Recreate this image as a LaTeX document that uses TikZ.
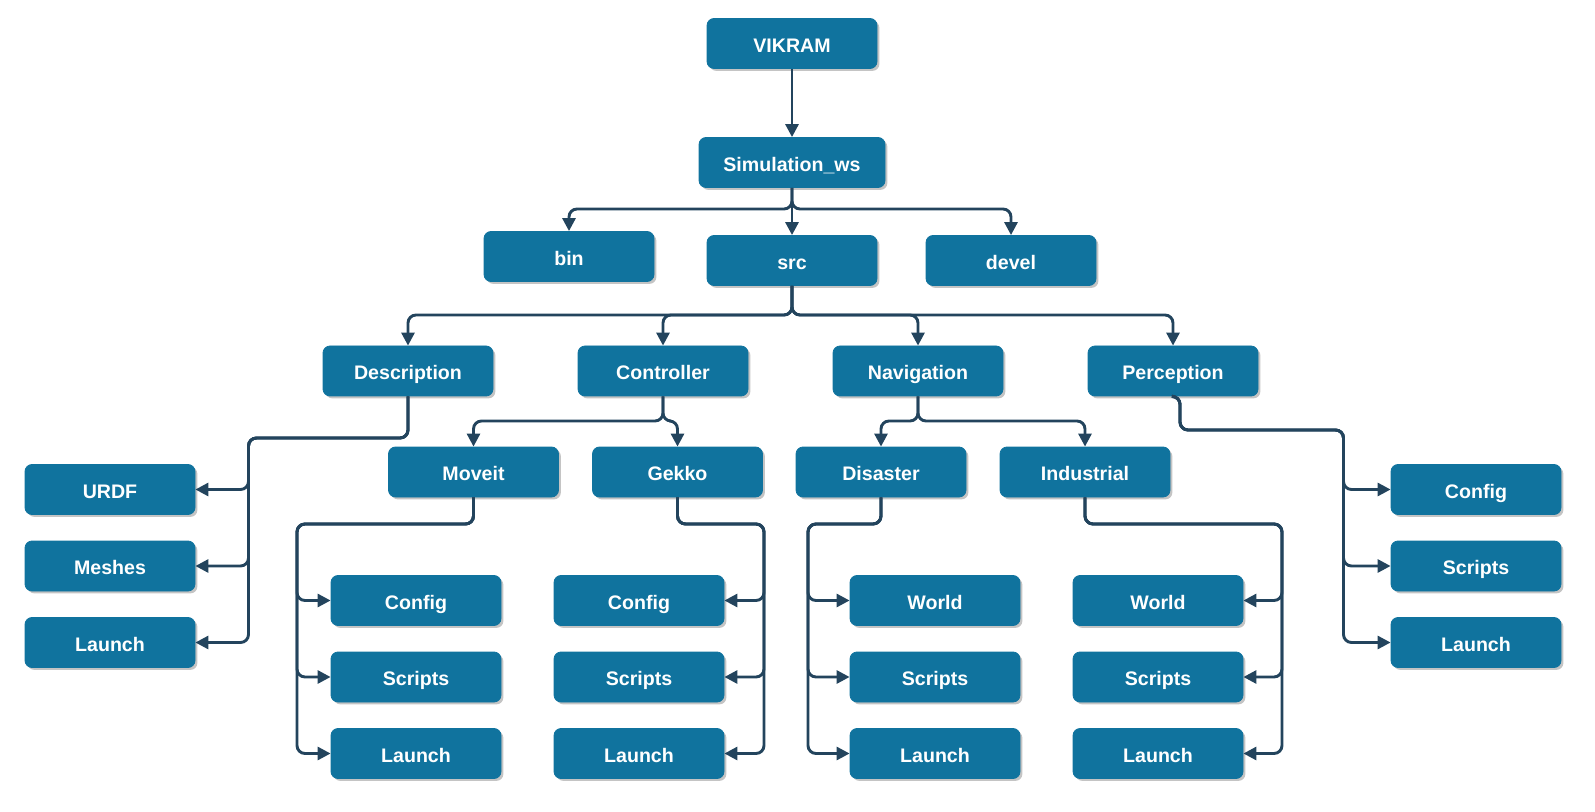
\documentclass[tikz,border=0pt]{standalone}
\usepackage{fontspec}
\setmainfont{Liberation Sans}
\usetikzlibrary{arrows.meta,shadows}
\definecolor{azulcaja}{HTML}{10739E}
\definecolor{azulflecha}{HTML}{23445D}
\definecolor{grissombra}{HTML}{C4C4C4}

\begin{document}
\begin{tikzpicture}[x=0.5pt, y=-0.5pt,
    box/.style={rectangle, rounded corners=3.5pt, fill=azulcaja, draw=azulcaja,
                minimum width=85pt, minimum height=25pt, inner sep=0pt,
                text height=8.6pt, text depth=0pt,
                text=white, font=\fontsize{9.8pt}{11pt}\selectfont\bfseries,
                drop shadow={shadow xshift=1.2pt, shadow yshift=-1.2pt,
                             fill=grissombra, opacity=1}},
    arrow/.style={-{Triangle[length=6.5pt, width=6.5pt]}, line width=1.45pt,
                  color=azulflecha, rounded corners=4pt}
  ]
    \useasboundingbox (0,0) rectangle (1595,812);

    \node[box] (vikram) at (792,43.5) {VIKRAM};
    \node[box, minimum width=93pt] (simws) at (792,162.5) {Simulation\_ws};
    \node[box] (bin) at (569,256.5) {bin};
    \node[box] (src) at (792,260.5) {src};
    \node[box] (devel) at (1011,260.5) {devel};

    \node[box] (description) at (408,371) {Description};
    \node[box] (controller) at (663,371) {Controller};
    \node[box] (navigation) at (918,371) {Navigation};
    \node[box] (perception) at (1173,371) {Perception};

    \node[box] (moveit) at (473.5,472) {Moveit};
    \node[box] (gekko) at (677.5,472) {Gekko};
    \node[box] (disaster) at (881,472) {Disaster};
    \node[box] (industrial) at (1085,472) {Industrial};

    \node[box] (urdf) at (110,489.5) {URDF};
    \node[box] (meshes) at (110,566) {Meshes};
    \node[box] (desclaunch) at (110,642.5) {Launch};

    \node[box] (mconfig) at (416,600.5) {Config};
    \node[box] (mscripts) at (416,677) {Scripts};
    \node[box] (mlaunch) at (416,753.5) {Launch};

    \node[box] (gconfig) at (639,600.5) {Config};
    \node[box] (gscripts) at (639,677) {Scripts};
    \node[box] (glaunch) at (639,753.5) {Launch};

    \node[box] (dworld) at (935,600.5) {World};
    \node[box] (dscripts) at (935,677) {Scripts};
    \node[box] (dlaunch) at (935,753.5) {Launch};

    \node[box] (iworld) at (1158,600.5) {World};
    \node[box] (iscripts) at (1158,677) {Scripts};
    \node[box] (ilaunch) at (1158,753.5) {Launch};

    \node[box] (pconfig) at (1476,489.5) {Config};
    \node[box] (pscripts) at (1476,566) {Scripts};
    \node[box] (plaunch) at (1476,642.5) {Launch};

    \coordinate (bussim) at (792,209);
    \coordinate (bussrc) at (792,315);
    \coordinate (busctrl) at (663,421);
    \coordinate (busnav) at (918,421);
    \coordinate (busdesc) at (248.5,438);
    \coordinate (busperc) at (1343.5,430);
    \coordinate (busmoveit) at (297,524);
    \coordinate (busgekko) at (764,524);
    \coordinate (busdisaster) at (808,524);
    \coordinate (busindustrial) at (1282,524);

    \draw[arrow] (vikram) -- (simws);
    \draw[arrow] (simws) -- (src);
    \draw[arrow] (simws.south) -- (bussim) -| (bin.north);
    \draw[arrow] (simws.south) -- (bussim) -| (devel.north);

    \draw[arrow] (src.south) -- (bussrc) -| (description.north);
    \draw[arrow] (src.south) -- (bussrc) -| (controller.north);
    \draw[arrow] (src.south) -- (bussrc) -| (navigation.north);
    \draw[arrow] (src.south) -- (bussrc) -| (perception.north);

    \draw[arrow] (controller.south) -- (busctrl) -| (moveit.north);
    \draw[arrow] (controller.south) -- (busctrl) -| (gekko.north);
    \draw[arrow] (navigation.south) -- (busnav) -| (disaster.north);
    \draw[arrow] (navigation.south) -- (busnav) -| (industrial.north);

    \draw[arrow] (description.south) |- (busdesc) |- (urdf.east);
    \draw[arrow] (description.south) |- (busdesc) |- (meshes.east);
    \draw[arrow] (description.south) |- (busdesc) |- (desclaunch.east);

    \draw[arrow] (moveit.south) |- (busmoveit) |- (mconfig.west);
    \draw[arrow] (moveit.south) |- (busmoveit) |- (mscripts.west);
    \draw[arrow] (moveit.south) |- (busmoveit) |- (mlaunch.west);

    \draw[arrow] (gekko.south) |- (busgekko) |- (gconfig.east);
    \draw[arrow] (gekko.south) |- (busgekko) |- (gscripts.east);
    \draw[arrow] (gekko.south) |- (busgekko) |- (glaunch.east);

    \draw[arrow] (disaster.south) |- (busdisaster) |- (dworld.west);
    \draw[arrow] (disaster.south) |- (busdisaster) |- (dscripts.west);
    \draw[arrow] (disaster.south) |- (busdisaster) |- (dlaunch.west);

    \draw[arrow] (industrial.south) |- (busindustrial) |- (iworld.east);
    \draw[arrow] (industrial.south) |- (busindustrial) |- (iscripts.east);
    \draw[arrow] (industrial.south) |- (busindustrial) |- (ilaunch.east);

    \draw[arrow] (perception.south) -- ++(7,0) |- (busperc) |- (pconfig.west);
    \draw[arrow] (perception.south) -- ++(7,0) |- (busperc) |- (pscripts.west);
    \draw[arrow] (perception.south) -- ++(7,0) |- (busperc) |- (plaunch.west);
  \end{tikzpicture}
\end{document}
